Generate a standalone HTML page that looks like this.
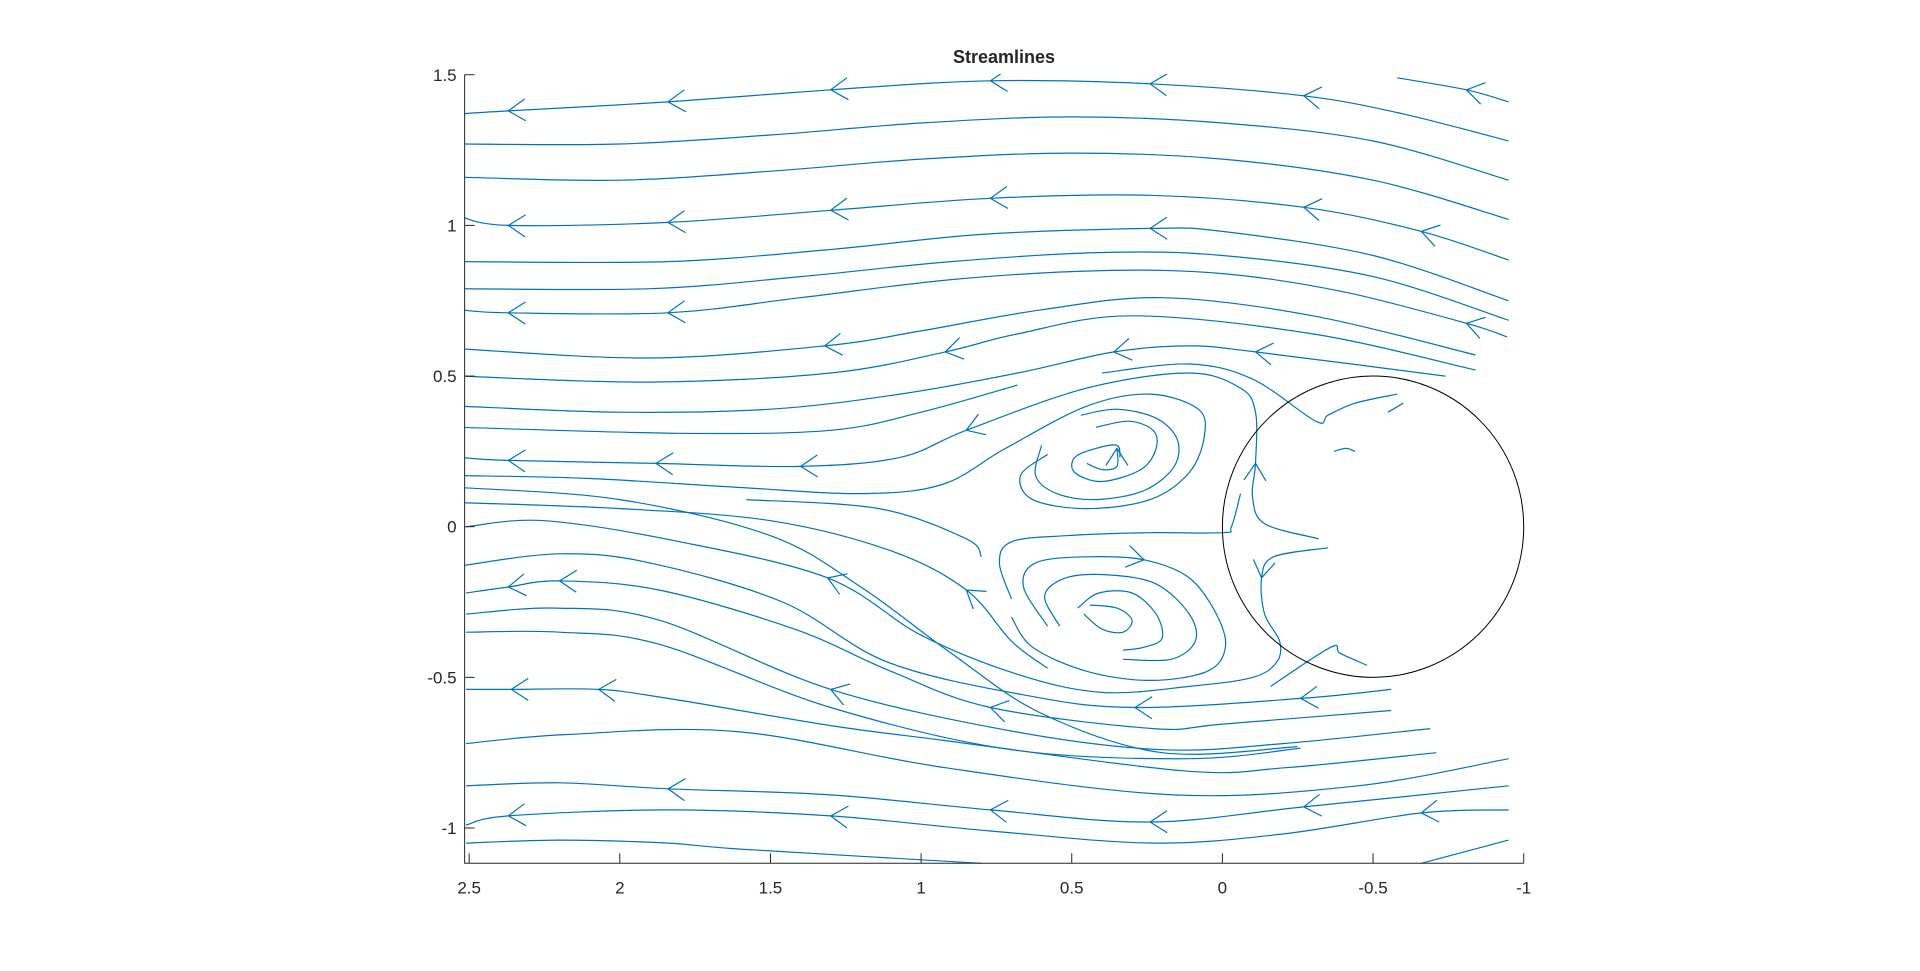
<!DOCTYPE html>
<html><head><meta charset="utf-8"><style>
html,body{margin:0;padding:0;background:#fff;}
svg{display:block;}
text{font-family:"Liberation Sans",Arial,sans-serif;fill:#262626;}
</style></head><body>
<svg id="chart" width="1920" height="971" viewBox="0 0 1920 971" xmlns="http://www.w3.org/2000/svg">
<rect width="1920" height="971" fill="#fff"/>
<defs><clipPath id="plotclip"><rect x="464.7" y="74" width="1060" height="790"/></clipPath></defs>
<text x="1004" y="63" font-size="18" font-weight="bold" text-anchor="middle">Streamlines</text>
<g id="lines" clip-path="url(#plotclip)"></g>
<g id="obstacle"></g>
<g id="axes"></g>
</svg>
<script>
// axis tick values (data units)
const xTicks = [2.5, 2, 1.5, 1, 0.5, 0, -0.5, -1];
const xTickLabels = ["2.5", "2", "1.5", "1", "0.5", "0", "-0.5", "-1"];
const yTicks = [1.5, 1, 0.5, 0, -0.5, -1];
const yTickLabels = ["1.5", "1", "0.5", "0", "-0.5", "-1"];
const xRange = [2.515, -1];
const yRange = [-1.117, 1.5];
// cylinder: center x, center y, radius
const circleCenter = [-0.5, 0];
const circleRadius = 0.5;

// streamlines in data coordinates, listed in flow order
const lineShort = [[-0.95,1.41],[-0.81,1.45],[-0.58,1.49]];
const line1 = [[-0.95,1.28],[-0.6,1.37],[-0.27,1.43],[0.24,1.47],[0.77,1.48],[1.30,1.45],[1.84,1.41],[2.37,1.38],[2.53,1.37]];
const line2 = [[-0.95,1.15],[-0.5,1.28],[0,1.34],[0.5,1.36],[1.0,1.34],[1.5,1.30],[2.0,1.27],[2.53,1.27]];
const line3 = [[-0.95,1.02],[-0.5,1.15],[0,1.22],[0.5,1.24],[1.0,1.22],[1.5,1.18],[2.0,1.15],[2.53,1.16]];
const line4 = [[-0.95,0.885],[-0.66,0.98],[-0.27,1.06],[0.24,1.10],[0.77,1.09],[1.30,1.05],[1.84,1.01],[2.37,1.00],[2.53,1.03]];
const line5 = [[-0.95,0.75],[-0.5,0.90],[0,0.98],[0.24,0.99],[0.8,0.97],[1.3,0.92],[1.84,0.88],[2.53,0.88]];
const line6 = [[-0.95,0.685],[-0.5,0.83],[0,0.90],[0.4,0.91],[0.9,0.88],[1.4,0.83],[1.9,0.79],[2.53,0.79]];
const line7 = [[-0.945,0.63],[-0.81,0.675],[-0.4,0.78],[0,0.84],[0.4,0.85],[0.9,0.82],[1.4,0.76],[1.84,0.71],[2.37,0.71],[2.53,0.72]];
const line8 = [[-0.84,0.57],[-0.3,0.70],[0.2,0.76],[0.6,0.72],[1.0,0.65],[1.32,0.60],[1.9,0.56],[2.53,0.59]];
const line9 = [[-0.84,0.52],[-0.3,0.64],[0.3,0.70],[0.68,0.64],[0.92,0.58],[1.3,0.51],[1.9,0.48],[2.53,0.50]];
const line10 = [[-0.74,0.50],[-0.11,0.58],[0.11,0.60],[0.36,0.58],[0.68,0.51],[1.07,0.44],[1.5,0.39],[2.0,0.38],[2.53,0.40]];
const line11 = [[0.40,0.51],[0.11,0.54],[-0.10,0.49],[-0.31,0.35],[-0.35,0.37],[-0.44,0.41],[-0.58,0.44]];
const line11b = [[0.68,0.47],[1.0,0.38],[1.3,0.32],[1.8,0.31],[2.53,0.33]];
const line12 = [[-0.32,-0.04],[-0.14,0.01],[-0.10,0.10],[-0.11,0.21],[-0.11,0.38],[-0.06,0.46],[0.11,0.51],[0.45,0.46],[0.85,0.32],[1.07,0.23],[1.40,0.20],[1.88,0.21],[2.37,0.22],[2.53,0.23]];
const line13 = [[0.58,0.24],[0.67,0.17],[0.63,0.09],[0.45,0.06],[0.24,0.09],[0.11,0.18],[0.06,0.30],[0.08,0.39],[0.24,0.44],[0.45,0.40],[0.72,0.26],[0.93,0.14],[1.2,0.11],[1.6,0.13],[2.1,0.16],[2.53,0.17]];
const eddyUp1 = [[0.47,0.37],[0.35,0.39],[0.22,0.36],[0.15,0.29],[0.16,0.20],[0.26,0.12],[0.42,0.09],[0.55,0.11],[0.62,0.17],[0.60,0.27]];
const eddyUp2 = [[0.34,0.23],[0.35,0.27],[0.42,0.26],[0.49,0.23],[0.49,0.18],[0.40,0.15],[0.27,0.19],[0.22,0.26],[0.23,0.32],[0.31,0.35],[0.42,0.33]];
const eddyUp3 = [[0.45,0.21],[0.40,0.19],[0.35,0.20],[0.35,0.26]];
const eddyLow1 = [[0.70,-0.24],[0.74,-0.12],[0.70,-0.05],[0.52,-0.03],[0.25,-0.02],[0.0,-0.02],[-0.03,0.0],[-0.06,0.11]];
const eddyLow2 = [[0.58,-0.33],[0.66,-0.20],[0.62,-0.12],[0.45,-0.10],[0.26,-0.11],[0.11,-0.17],[0.02,-0.29],[-0.01,-0.40],[0.05,-0.48],[0.24,-0.51],[0.45,-0.48],[0.63,-0.40],[0.70,-0.30]];
const eddyLow3 = [[0.54,-0.33],[0.59,-0.23],[0.52,-0.17],[0.38,-0.16],[0.22,-0.19],[0.11,-0.29],[0.09,-0.38],[0.17,-0.44],[0.33,-0.44]];
const eddyLow4 = [[0.33,-0.41],[0.26,-0.40],[0.20,-0.37],[0.22,-0.29],[0.30,-0.22],[0.41,-0.22],[0.48,-0.27]];
const eddyLow5 = [[0.44,-0.26],[0.35,-0.27],[0.30,-0.31],[0.33,-0.35],[0.40,-0.34],[0.46,-0.29]];
const line16 = [[0.80,-0.10],[0.85,-0.04],[1.14,0.06],[1.58,0.09]];
const lineM1 = [[-0.25,-0.73],[0.2,-0.75],[0.6,-0.62],[0.9,-0.42],[1.2,-0.20],[1.5,-0.03],[2.0,0.09],[2.53,0.13]];
const lineM2 = [[0.58,-0.47],[0.70,-0.38],[0.85,-0.21],[1.1,-0.08],[1.5,0.02],[2.0,0.06],[2.53,0.08]];
const line17 = [[-0.35,-0.07],[-0.17,-0.10],[-0.13,-0.17],[-0.14,-0.29],[-0.19,-0.38],[-0.18,-0.45],[-0.10,-0.50],[0.11,-0.53],[0.40,-0.55],[0.68,-0.49],[1.0,-0.36],[1.31,-0.17],[1.8,-0.05],[2.25,0.02],[2.51,0.0]];
const line18 = [[-0.56,-0.54],[-0.26,-0.57],[0.29,-0.60],[0.65,-0.56],[1.11,-0.45],[1.46,-0.25],[1.9,-0.12],[2.2,-0.09],[2.53,-0.13]];
const line19 = [[-0.56,-0.61],[0.0,-0.655],[0.23,-0.67],[0.77,-0.60],[1.1,-0.48],[1.42,-0.34],[1.87,-0.21],[2.2,-0.18],[2.37,-0.20],[2.51,-0.22]];
const line20 = [[-0.69,-0.67],[-0.2,-0.72],[0.2,-0.74],[0.69,-0.68],[1.30,-0.54],[1.87,-0.31],[2.21,-0.27],[2.51,-0.29]];
const line21 = [[-0.26,-0.735],[0.11,-0.77],[0.7,-0.74],[1.3,-0.60],[1.87,-0.39],[2.2,-0.35],[2.51,-0.35]];
const line22 = [[-0.71,-0.75],[-0.21,-0.80],[0.13,-0.81],[0.92,-0.71],[1.3,-0.66],[1.84,-0.57],[2.07,-0.54],[2.36,-0.54],[2.51,-0.54]];
const line23 = [[-0.95,-0.77],[-0.45,-0.86],[0.16,-0.89],[0.92,-0.80],[1.61,-0.68],[2.18,-0.69],[2.51,-0.72]];
const line24 = [[-0.95,-0.86],[-0.27,-0.93],[0.24,-0.98],[0.77,-0.94],[1.30,-0.89],[1.84,-0.87],[2.2,-0.85],[2.51,-0.86]];
const line25 = [[-0.95,-0.94],[-0.66,-0.95],[-0.2,-1.02],[0.23,-1.05],[0.77,-1.01],[1.30,-0.96],[1.84,-0.94],[2.37,-0.96],[2.51,-0.99]];
const line26 = [[0.8,-1.117],[1.6,-1.07],[1.84,-1.05],[2.2,-1.04],[2.51,-1.05]];
const line27 = [[-0.95,-1.04],[-0.66,-1.117]];
const line29 = [[-0.16,-0.53],[-0.36,-0.40],[-0.39,-0.42],[-0.48,-0.46]];
const innerArc = [[-0.37,0.25],[-0.41,0.26],[-0.44,0.25]];
const innerTick = [[-0.55,0.38],[-0.60,0.41]];

const streamlines = [lineShort,line1,line2,line3,line4,line5,line6,line7,line8,line9,line10,line11,line11b,line12,line13,eddyUp1,eddyUp2,eddyUp3,eddyLow1,eddyLow2,eddyLow3,eddyLow4,eddyLow5,line16,lineM1,lineM2,line17,line18,line19,line20,line21,line22,line23,line24,line25,line26,line27,line29,innerArc,innerTick];
// vertex indices carrying arrowheads, per streamline
const arrowIdx = [[1],[2,3,4,5,6,7],[],[],[1,2,4,5,6,7],[3],[],[1,7,8],[5],[4],[1,3],[],[],[3,8,10,11,12],[],[],[],[3],[],[4],[],[],[],[],[],[2],[2,11],[1,2],[3,7,8],[4],[],[6,7],[],[1,2,3,5],[1,5,7],[],[],[],[],[]];

const X0 = 1222.4, SC = 301.3, Y0 = 526.7;
function sx(x){ return X0 - x*SC; }
function sy(y){ return Y0 - y*SC; }
const NS = "http://www.w3.org/2000/svg";

function smoothPath(pts){
  const p = pts.map(d => [sx(d[0]), sy(d[1])]);
  let s = "M" + p[0][0].toFixed(1) + "," + p[0][1].toFixed(1);
  for (let i = 0; i < p.length - 1; i++){
    const p0 = p[i-1] || p[i], p1 = p[i], p2 = p[i+1], p3 = p[i+2] || p[i+1];
    const c1 = [p1[0] + (p2[0]-p0[0])/6, p1[1] + (p2[1]-p0[1])/6];
    const c2 = [p2[0] - (p3[0]-p1[0])/6, p2[1] - (p3[1]-p1[1])/6];
    s += " C" + c1[0].toFixed(1)+","+c1[1].toFixed(1)+" "+c2[0].toFixed(1)+","+c2[1].toFixed(1)+" "+p2[0].toFixed(1)+","+p2[1].toFixed(1);
  }
  return s;
}

const lg = document.getElementById("lines");
streamlines.forEach((pts, k) => {
  const path = document.createElementNS(NS, "path");
  path.setAttribute("d", smoothPath(pts));
  path.setAttribute("fill", "none");
  path.setAttribute("stroke", "#0072BD");
  path.setAttribute("stroke-width", "1.2");
  
  
  lg.appendChild(path);
  (arrowIdx[k] || []).forEach(i => {
    const a = pts[i];
    const prev = pts[Math.max(0, i-1)], next = pts[Math.min(pts.length-1, i+1)];
    let dx = sx(next[0]) - sx(prev[0]), dy = sy(next[1]) - sy(prev[1]);
    const L = Math.hypot(dx, dy) || 1; dx /= L; dy /= L;
    const tx = sx(a[0]), ty = sy(a[1]);
    const bx = tx - dx*17, by = ty - dy*17;
    const nx = -dy*11, ny = dx*11;
    const ar = document.createElementNS(NS, "path");
    ar.setAttribute("d", "M"+(bx+nx).toFixed(1)+","+(by+ny).toFixed(1)+" L"+tx.toFixed(1)+","+ty.toFixed(1)+" L"+(bx-nx).toFixed(1)+","+(by-ny).toFixed(1));
    ar.setAttribute("fill", "none");
    ar.setAttribute("stroke", "#0072BD");
    ar.setAttribute("stroke-width", "1.2");
    
    
    lg.appendChild(ar);
  });
});

const og = document.getElementById("obstacle");
const circ = document.createElementNS(NS, "circle");
circ.setAttribute("cx", sx(circleCenter[0]));
circ.setAttribute("cy", sy(circleCenter[1]));
circ.setAttribute("r", circleRadius*SC);
circ.setAttribute("fill", "none");
circ.setAttribute("stroke", "#000");
circ.setAttribute("stroke-width", "1");


og.appendChild(circ);

const ag = document.getElementById("axes");
const axLeft = sx(xRange[0]), axRight = sx(xRange[1]), axTop = sy(yRange[1]), axBottom = sy(yRange[0]);
const axPath = document.createElementNS(NS, "path");
axPath.setAttribute("d", "M"+axLeft+","+axTop+" L"+axLeft+","+axBottom+" L"+axRight+","+axBottom);
axPath.setAttribute("fill", "none");
axPath.setAttribute("stroke", "#262626");
axPath.setAttribute("stroke-width", "1");


ag.appendChild(axPath);

xTicks.forEach((v, i) => {
  const x = sx(v);
  const t = document.createElementNS(NS, "line");
  t.setAttribute("x1", x); t.setAttribute("x2", x);
  t.setAttribute("y1", axBottom); t.setAttribute("y2", axBottom - 10);
  t.setAttribute("stroke", "#262626");
  
  
  ag.appendChild(t);
  const lb = document.createElementNS(NS, "text");
  lb.setAttribute("x", x); lb.setAttribute("y", axBottom + 30);
  lb.setAttribute("font-size", "17");
  lb.setAttribute("text-anchor", "middle");
  lb.textContent = xTickLabels[i];
  
  
  ag.appendChild(lb);
});
yTicks.forEach((v, i) => {
  const y = sy(v);
  const t = document.createElementNS(NS, "line");
  t.setAttribute("x1", axLeft); t.setAttribute("x2", axLeft + 10);
  t.setAttribute("y1", y); t.setAttribute("y2", y);
  t.setAttribute("stroke", "#262626");
  
  
  ag.appendChild(t);
  const lb = document.createElementNS(NS, "text");
  lb.setAttribute("x", axLeft - 8); lb.setAttribute("y", y + 6);
  lb.setAttribute("font-size", "17");
  lb.setAttribute("text-anchor", "end");
  lb.textContent = yTickLabels[i];
  
  
  ag.appendChild(lb);
});
</script>
</body></html>
